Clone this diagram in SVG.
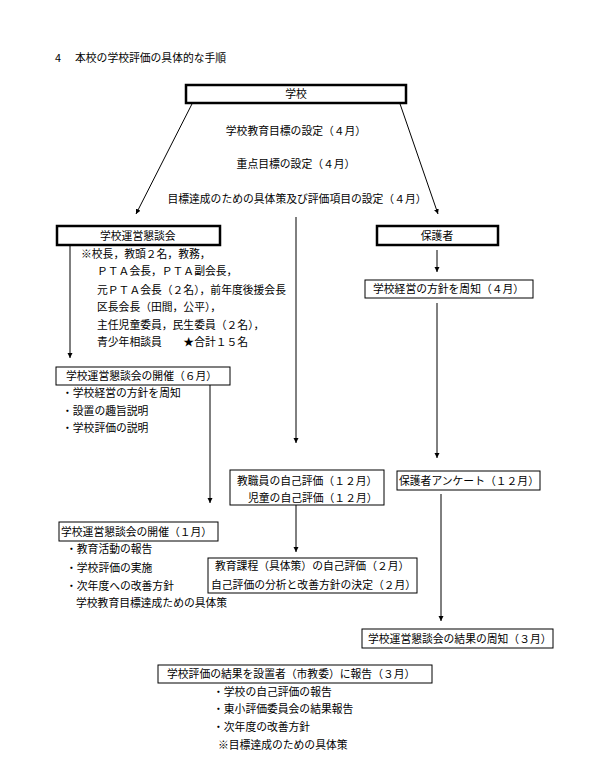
<svg xmlns="http://www.w3.org/2000/svg" width="597" height="769" viewBox="0 0 597 769">
<defs>
<marker id="ah" viewBox="0 0 10 10" refX="10" refY="5" markerWidth="5" markerHeight="8" orient="auto" markerUnits="userSpaceOnUse"><path d="M0,0 L10,5 L0,10 z" fill="#000"/></marker>
<style>
text{font-family:"MS PGothic","Noto Sans CJK JP","Noto Sans",sans-serif;font-size:10.8px;fill:#000}
.c{text-anchor:middle}
.thick{fill:#fff;stroke:#000;stroke-width:2.5}
.thin{fill:#fff;stroke:#000;stroke-width:1}
.ln{stroke:#000;stroke-width:1;fill:none;marker-end:url(#ah)}
</style>
</defs>
<rect width="597" height="769" fill="#fff"/>
<g id="title"><text x="55" y="62">4</text><text x="75" y="62">本校の学校評価の具体的な手順</text></g>

<g id="connectors">
<line class="ln" x1="195" y1="98" x2="136" y2="214"/>
<line class="ln" x1="398" y1="98" x2="438" y2="214"/>
<line class="ln" x1="70" y1="240" x2="70" y2="358"/>
<line class="ln" x1="296" y1="217" x2="296" y2="443"/>
<line class="ln" x1="437" y1="250" x2="437" y2="272"/>
<line class="ln" x1="437" y1="303" x2="437" y2="458"/>
<line class="ln" x1="210" y1="385" x2="210" y2="503"/>
<line class="ln" x1="296" y1="505" x2="296" y2="552"/>
<line class="ln" x1="441" y1="494" x2="441" y2="621"/>
</g>

<g id="school"><rect class="thick" x="186" y="85" width="220" height="18"/><text class="c" x="296" y="98">学校</text></g>
<g id="goals">
<text class="c" x="296" y="135">学校教育目標の設定（４月）</text>
<text class="c" x="296" y="168">重点目標の設定（４月）</text>
<text class="c" x="297" y="203">目標達成のための具体策及び評価項目の設定（４月）</text>
</g>

<g id="council"><rect class="thick" x="57" y="226" width="163" height="19"/><text x="100" y="240">学校運営懇談会</text></g>
<g id="members">
<text x="81" y="258">※校長，教頭２名，教務，</text>
<text x="97" y="275">ＰＴＡ会長，ＰＴＡ副会長，</text>
<text x="97" y="294">元ＰＴＡ会長（２名），前年度後援会長</text>
<text x="97" y="311">区長会長（田間，公平），</text>
<text x="97" y="329">主任児童委員，民生委員（２名），</text>
<text x="97" y="346">青少年相談員　　★合計１５名</text>
</g>

<g id="guardians"><rect class="thick" x="377" y="226" width="121" height="19"/><text class="c" x="437" y="240">保護者</text></g>
<g id="policy"><rect class="thin" x="365" y="280" width="168" height="18"/><text x="373" y="293">学校経営の方針を周知（４月）</text></g>

<g id="meeting6"><rect class="thin" x="56" y="367" width="174" height="18"/><text x="66" y="380">学校運営懇談会の開催（６月）</text>
<text x="62" y="397">・学校経営の方針を周知</text>
<text x="62" y="415">・設置の趣旨説明</text>
<text x="62" y="432">・学校評価の説明</text>
</g>

<g id="selfeval"><rect class="thin" x="230" y="470" width="154" height="35"/>
<text x="237" y="485">教職員の自己評価（１２月）</text>
<text x="248" y="502">児童の自己評価（１２月）</text></g>

<g id="survey"><rect class="thin" x="397" y="471" width="143" height="19"/><text x="399" y="485">保護者アンケート（１２月）</text></g>

<g id="meeting1"><rect class="thin" x="59" y="522" width="159" height="19"/><text x="61" y="536">学校運営懇談会の開催（１月）</text>
<text x="66" y="553">・教育活動の報告</text>
<text x="66" y="572">・学校評価の実施</text>
<text x="66" y="590">・次年度への改善方針</text>
<text x="76" y="607">学校教育目標達成ための具体策</text>
</g>

<g id="curriculum"><rect class="thin" x="208" y="558" width="209" height="35"/>
<text x="215" y="570">教育課程（具体策）の自己評価（２月）</text>
<text x="211" y="589">自己評価の分析と改善方針の決定（２月）</text></g>

<g id="results"><rect class="thin" x="362" y="629" width="191" height="19"/><text x="368" y="643">学校運営懇談会の結果の周知（３月）</text></g>

<g id="report"><rect class="thin" x="158" y="665" width="274" height="18"/><text x="167" y="678">学校評価の結果を設置者（市教委）に報告（３月）</text>
<text x="213" y="696">・学校の自己評価の報告</text>
<text x="213" y="713">・東小評価委員会の結果報告</text>
<text x="213" y="731">・次年度の改善方針</text>
<text x="218" y="749">※目標達成のための具体策</text>
</g>
</svg>
